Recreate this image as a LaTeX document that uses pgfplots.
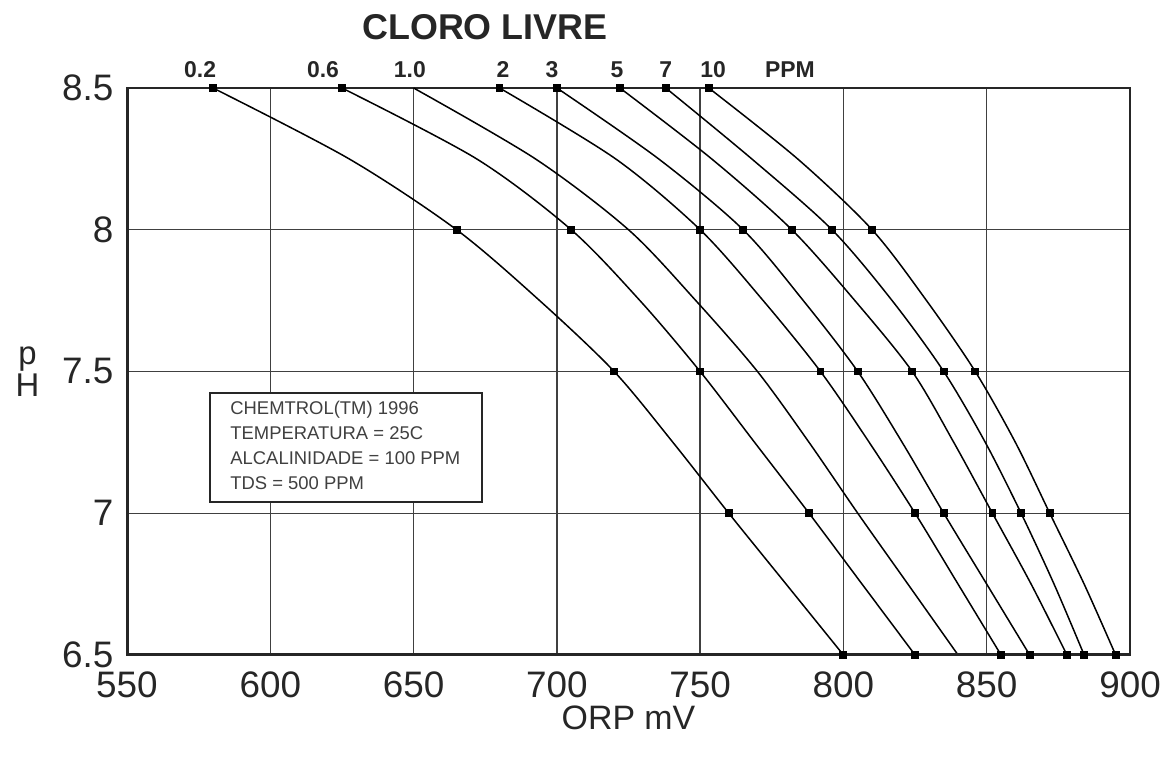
\documentclass[border=0pt]{standalone}
\usepackage{pgfplots}
\pgfplotsset{compat=1.18}
\usepackage{fontspec}
\setmainfont{Liberation Sans}
\begin{document}
\begin{tikzpicture}[x=1bp,y=1bp]
\path (0,0) rectangle (1175,760);
\begin{axis}[
  at={(127bp,105bp)}, anchor=south west,
  scale only axis, width=1003bp, height=567bp,
  xmin=550, xmax=900, ymin=6.5, ymax=8.5,
  xtick={550,600,650,700,750,800,850,900},
  ytick={6.5,7,7.5,8,8.5},
  major tick length=0pt,
  grid=major,
  major grid style={line width=1.4bp, color=black!75},
  axis line style={line width=1.6bp, color=black!85},
  ticklabel style={font=\fontsize{37}{40}\selectfont, text=black!85},
  /pgf/number format/assume math mode=true,
  yticklabel style={xshift=-10bp},
  xticklabel style={yshift=-13bp},
  xlabel={ORP mV},
  xlabel style={font=\fontsize{34}{38}\selectfont, text=black!85, yshift=-1bp},
  ylabel={\shortstack{p\\H}},
  ylabel style={rotate=-90, font=\fontsize{33}{33}\selectfont, text=black!85, xshift=-16bp},
  clip=false,
  curve/.style={black, line width=1.5bp, smooth, tension=0.5, solid},
  mk/.style={mark=square*, mark size=3.2bp, mark indices={1,3,5,7,9}, mark options={solid, fill=black, draw=black}},
]
% 0.2 ppm
\addplot[curve, mk] coordinates {(580,8.5) (627.5,8.25) (665,8) (694,7.75) (720,7.5) (740.5,7.25) (760,7) (780,6.75) (800,6.5)};
% 0.6 ppm
\addplot[curve, mk] coordinates {(625,8.5) (672,8.25) (705,8) (729,7.75) (750,7.5) (769,7.25) (788,7) (806.5,6.75) (825,6.5)};
% 1.0 ppm
\addplot[curve, mark=none] coordinates {(650,8.5) (692.5,8.25) (725,8) (748.5,7.75) (770,7.5) (788,7.25) (805,7) (822.5,6.75) (840,6.5)};
% 2 ppm
\addplot[curve, mk] coordinates {(680,8.5) (720.5,8.25) (750,8) (772,7.75) (792,7.5) (809,7.25) (825,7) (840,6.75) (855,6.5)};
% 3 ppm
\addplot[curve, mk] coordinates {(700,8.5) (735.5,8.25) (765,8) (786,7.75) (805,7.5) (820.5,7.25) (835,7) (850,6.75) (865,6.5)};
% 5 ppm
\addplot[curve, mk] coordinates {(722,8.5) (754,8.25) (782,8) (804,7.75) (824,7.5) (838.5,7.25) (852,7) (865.5,6.75) (878,6.5)};
% 7 ppm
\addplot[curve, mk] coordinates {(738,8.5) (768,8.25) (796,8) (817,7.75) (835,7.5) (849.5,7.25) (862,7) (873.5,6.75) (884,6.5)};
% 10 ppm
\addplot[curve, mk] coordinates {(753,8.5) (784,8.25) (810,8) (829,7.75) (846,7.5) (860,7.25) (872,7) (884,6.75) (895,6.5)};

% heavier left and bottom axis lines
\draw[line width=3bp, black!85] (rel axis cs:0,1) -- (rel axis cs:0,0) -- (rel axis cs:1,0);

% curve labels
\begin{scope}[every node/.style={anchor=base, yshift=10bp, font=\fontsize{23}{25}\selectfont\bfseries, text=black!85}]
\node at (axis cs:575.5,8.5) {0.2};
\node at (axis cs:618.4,8.5) {0.6};
\node at (axis cs:648.7,8.5) {1.0};
\node at (axis cs:681.2,8.5) {2};
\node at (axis cs:698.3,8.5) {3};
\node at (axis cs:721,8.5) {5};
\node at (axis cs:738,8.5) {7};
\node at (axis cs:754.5,8.5) {10};
\node at (axis cs:781.3,8.5) {PPM};
\end{scope}
\node[anchor=base, yshift=48bp, font=\fontsize{36}{38}\selectfont\bfseries, text=black!85] at (axis cs:674.9,8.5) {CLORO LIVRE};

% info box
\draw[line width=1.3bp, fill=white, draw=black!85] (axis cs:579,7.424) rectangle (axis cs:673.9,7.04);
\node[anchor=north west, align=left, inner sep=0pt, font=\fontsize{18.5}{25}\selectfont, text=black!75] at (axis cs:586,7.395)
  {CHEMTROL(TM) 1996\\TEMPERATURA = 25C\\ALCALINIDADE = 100 PPM\\TDS = 500 PPM};
\end{axis}
\end{tikzpicture}
\end{document}
